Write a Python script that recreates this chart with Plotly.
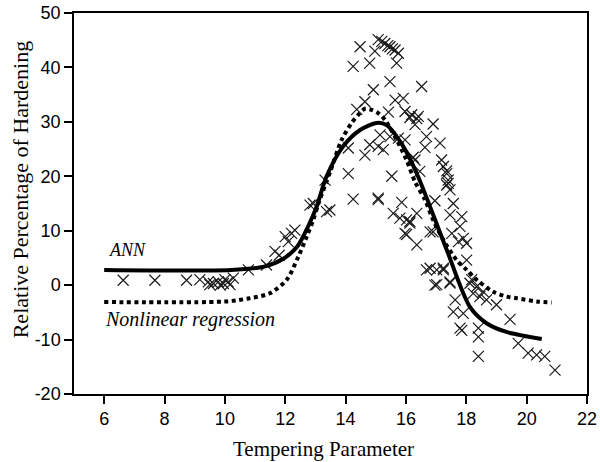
import plotly.graph_objects as go

# ---- data ----
ann_x = [6.0, 10.2, 11.3, 11.95, 12.4, 12.76, 13.04, 13.37, 13.92, 14.48, 15.03, 15.36,
         15.91, 16.36, 17.35, 18.12, 18.67, 19.33, 20.5]
ann_y = [2.8, 2.8, 3.4, 4.9, 7.1, 10.8, 14.4, 20.0, 25.5, 28.5, 29.8, 29.4,
         25.5, 20.5, 6.5, -4.0, -7.0, -8.6, -9.9]

nlr_x = [6.0, 10.0, 10.83, 11.49, 12.05, 12.43, 12.71, 12.93, 13.1, 13.5, 13.87, 14.2, 14.42,
         14.64, 14.86, 15.08, 15.3, 15.69, 16.02, 16.3, 16.63, 16.9, 17.24, 17.68, 18.01,
         18.34, 18.89, 19.33, 19.67, 20.33, 20.83]
nlr_y = [-3.1, -3.0, -2.4, -1.5, 1.0, 5.2, 8.9, 12.0, 15.0, 21.0, 26.7, 29.8, 31.3,
         32.4, 32.2, 31.6, 30.4, 26.7, 23.0, 19.0, 15.7, 12.0, 8.3, 4.6, 2.8,
         1.0, -1.2, -2.1, -2.4, -3.0, -3.2]

obs_x = [6.63, 7.68, 8.73, 9.17, 9.45, 9.62, 9.78, 9.95, 10.11, 10.28, 10.17, 9.5, 9.85, 10.0,
         10.78, 11.38, 11.66, 11.8, 12.0, 12.21, 12.32, 12.1, 12.82, 12.93, 13.37, 13.32, 13.48,
         14.48, 14.25, 14.8, 14.97, 15.08, 15.2, 15.3, 15.4, 15.47, 15.55, 15.64, 15.75, 15.69,
         15.47, 14.92, 14.64, 15.64, 15.91, 16.52, 14.37, 15.42, 15.97, 16.13, 16.36, 16.41,
         16.3, 16.9, 16.19,
         15.14, 15.47, 15.75, 14.8, 15.08, 15.25, 14.64, 14.09, 15.97, 16.68, 16.63, 17.13,
         16.24, 16.3, 17.18, 17.24, 17.35, 16.46, 17.35, 17.4, 17.35, 17.4, 17.46, 14.09,
         15.53, 14.25, 15.08, 15.08, 15.86, 15.58, 15.8, 16.13, 16.36, 16.02, 16.36, 16.96,
         17.57, 16.9, 16.8, 17.46, 17.85, 16.02, 16.13, 17.79, 17.52, 15.97, 17.9, 17.74,
         18.01, 18.01, 16.68, 16.8, 17.02, 17.24, 17.24, 16.96, 17.02, 17.46, 17.46, 18.34,
         18.56, 18.18, 18.12, 18.23, 18.45, 18.67, 19.0, 17.63, 17.57, 17.9, 17.79, 17.85,
         18.4, 18.4, 18.4, 19.45, 19.72, 20.05, 20.33, 20.6, 20.94]
obs_y = [0.9, 0.9, 0.9, 1.0, 0.6, 0.3, 0.6, 0.3, 0.6, 1.3, 0.1, 0.1, 0.0, 1.0,
         2.8, 3.7, 6.2, 5.5, 8.9, 9.5, 10.1, 8.0, 14.7, 15.0, 13.5, 19.3, 13.8,
         43.8, 40.2, 40.8, 43.0, 45.1, 44.8, 44.4, 44.0, 43.8, 43.4, 43.2, 42.6, 40.8,
         37.4, 35.9, 33.7, 34.0, 34.3, 36.5, 32.3, 31.8, 31.9, 30.8, 30.6, 31.0,
         29.5, 29.6, 31.3,
         27.6, 27.3, 27.0, 25.8, 25.5, 24.9, 23.9, 25.2, 26.7, 27.3, 25.3, 26.1,
         23.5, 23.0, 23.0, 21.8, 21.0, 20.9, 20.5, 19.3, 18.4, 18.7, 17.5, 20.5,
         20.0, 15.8, 16.0, 15.7, 15.2, 13.2, 12.3, 11.7, 13.2, 9.3, 7.4, 15.5,
         15.0, 9.8, 9.8, 12.9, 12.6, 12.0, 11.4, 10.8, 9.5, 9.5, 8.6, 8.0,
         7.7, 4.6, 2.8, 3.1, 2.8, 2.8, 3.1, 0.0, 0.1, 0.4, 0.6, -0.3,
         -1.2, 1.0, 0.35, -1.5, -2.1, -2.7, -3.6, -2.7, -4.9, -5.2, -7.9, -8.3,
         -7.9, -9.5, -13.1, -6.3, -10.7, -12.5, -12.8, -13.1, -15.6]

x_ticks = [6, 8, 10, 12, 14, 16, 18, 20, 22]
x_labels = ["6", "8", "10", "12", "14", "16", "18", "20", "22"]
y_ticks = [-20, -10, 0, 10, 20, 30, 40, 50]
y_labels = ["-20", "-10", "0", "10", "20", "30", "40", "50"]

serif = "Liberation Serif, Times New Roman, serif"
sans = "Liberation Sans, Arial, sans-serif"

TICK = 8

fig = go.Figure()
fig.add_trace(go.Scatter(x=obs_x, y=obs_y, mode="markers",
                         marker=dict(symbol="x-thin-open", size=11, color="#1a1a1a",
                                     line=dict(width=1.2, color="#1a1a1a")),
                         showlegend=False, hoverinfo="skip"))
fig.add_trace(go.Scatter(x=nlr_x, y=nlr_y, mode="lines",
                         line=dict(color="black", width=4, dash="4px,3.5px", shape="spline", smoothing=0.8),
                         showlegend=False))
fig.add_trace(go.Scatter(x=ann_x, y=ann_y, mode="lines",
                         line=dict(color="black", width=4, shape="spline", smoothing=0.8),
                         showlegend=False))

fig.add_annotation(x=6.1, y=4.3, text="<i>ANN</i>", showarrow=False, xanchor="left",
                   yanchor="bottom", font=dict(family=serif, size=18, color="black"))
fig.add_annotation(x=5.95, y=-3.9, text="<i>Nonlinear regression</i>", showarrow=False,
                   xanchor="left", yanchor="top", font=dict(family=serif, size=20, color="black"))
fig.add_annotation(xref="paper", yref="paper", x=0.486, y=-0.1444, text="Tempering Parameter",
                   showarrow=False, xanchor="center", yanchor="middle",
                   font=dict(family=serif, size=21, color="black"))
fig.add_annotation(xref="paper", yref="paper", x=-0.105, y=0.535,
                   text="Relative Percentage of Hardening", textangle=-90,
                   showarrow=False, xanchor="center", yanchor="middle",
                   font=dict(family=serif, size=22, color="black"))

fig.update_layout(
    width=600, height=462,
    margin=dict(l=74, r=13, t=13, b=68),
    paper_bgcolor="white", plot_bgcolor="white",
    xaxis=dict(range=[5, 22], tickvals=x_ticks, ticktext=x_labels,
               ticks="outside", ticklen=TICK,
               tickwidth=1.5, tickcolor="black", showline=True, linecolor="black", linewidth=1.5,
               mirror=True, showgrid=False, zeroline=False, automargin=False,
               tickfont=dict(family=sans, size=18, color="black")),
    yaxis=dict(range=[-20, 50], tickvals=y_ticks, ticktext=y_labels,
               ticks="outside", ticklen=TICK,
               tickwidth=1.5, tickcolor="black", showline=True, linecolor="black", linewidth=1.5,
               mirror=True, showgrid=False, zeroline=False, automargin=False,
               tickfont=dict(family=sans, size=18, color="black")),
)

fig.write_html("out.html")
